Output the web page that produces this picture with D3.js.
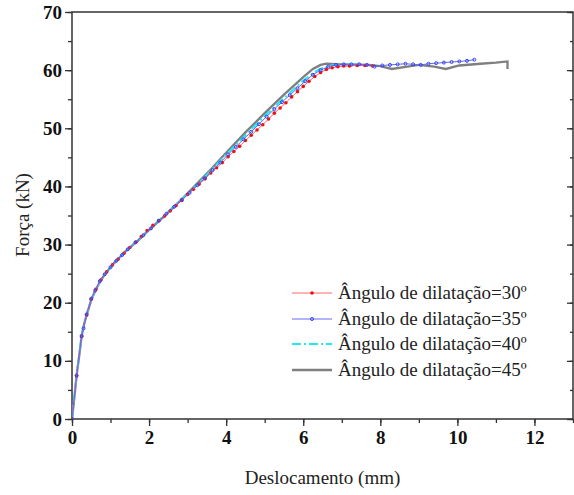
<!DOCTYPE html>
<html><head><meta charset="utf-8">
<script src="https://cdn.jsdelivr.net/npm/d3@7"></script>
</head><body style="margin:0"><svg id="c" width="574" height="495" style="display:block;background:#fff"></svg>
<script>
const xTicks=[0,2,4,6,8,10,12];
const yTicks=[0,10,20,30,40,50,60,70];
const seriesNames=["Ângulo de dilatação=30º","Ângulo de dilatação=35º","Ângulo de dilatação=40º","Ângulo de dilatação=45º"];
const red30=[[0,0],[0.12,7.4],[0.25,14.2],[0.38,17.9],[0.5,20.6],[0.62,22.3],[0.75,23.9],[0.9,25.3],[1.05,26.5],[1.2,27.5],[1.35,28.5],[1.5,29.5],[1.65,30.4],[1.8,31.4],[1.95,32.4],[2.1,33.3],[2.25,34.1],[2.4,34.9],[2.55,35.8],[2.7,36.7],[2.85,37.6],[3.0,38.6],[3.15,39.5],[3.3,40.4],[3.45,41.3],[3.6,42.3],[3.75,43.2],[3.9,44.1],[4.05,45.1],[4.2,46.0],[4.35,46.9],[4.5,47.9],[4.65,48.8],[4.8,49.7],[4.95,50.6],[5.1,51.6],[5.25,52.6],[5.4,53.5],[5.55,54.4],[5.7,55.4],[5.85,56.3],[6.0,57.2],[6.15,58.1],[6.3,58.9],[6.45,59.6],[6.6,60.1],[6.75,60.4],[6.9,60.6],[7.05,60.7],[7.2,60.7],[7.4,60.8],[7.6,60.8],[7.8,60.7]];
const blue35=[[0,0],[0.12,7.5],[0.25,14.3],[0.3,15.6],[0.38,18.0],[0.5,20.7],[0.6,22.1],[0.72,23.7],[0.85,24.9],[1.0,26.1],[1.15,27.2],[1.3,28.2],[1.45,29.2],[1.65,30.4],[1.85,31.6],[2.05,32.8],[2.25,34.1],[2.45,35.3],[2.65,36.5],[2.85,37.7],[3.05,38.9],[3.25,40.2],[3.45,41.4],[3.65,42.8],[3.85,44.1],[4.05,45.5],[4.25,46.8],[4.45,48.1],[4.65,49.4],[4.85,50.7],[5.05,52.0],[5.25,53.3],[5.45,54.5],[5.65,55.7],[5.85,56.9],[6.05,58.1],[6.25,59.2],[6.45,60.0],[6.65,60.6],[6.85,60.9],[7.05,61.0],[7.25,61.0],[7.45,61.0],[7.65,60.9],[7.85,60.6],[8.05,60.8],[8.25,60.9],[8.45,61.0],[8.65,61.1],[8.85,61.0],[9.05,60.9],[9.25,61.1],[9.45,61.2],[9.65,61.3],[9.85,61.4],[10.05,61.5],[10.25,61.6],[10.44,61.8]];
const cyan40=[[0,0],[0.12,7.5],[0.25,14.3],[0.38,18.0],[0.5,20.6],[0.75,23.9],[1.0,26.1],[1.4,28.9],[1.8,31.3],[2.2,33.8],[2.6,36.3],[3.0,38.7],[3.5,42.0],[4.0,45.5],[4.5,48.8],[5.0,52.1],[5.5,55.2],[6.0,58.2],[6.4,60.1],[6.7,60.8],[7.0,61.0],[7.5,61.0]];
const gray45=[[0,0],[0.05,3],[0.12,7.5],[0.2,11.5],[0.25,14.3],[0.32,16.5],[0.4,18.3],[0.5,20.5],[0.6,22],[0.75,23.9],[0.9,25.3],[1.1,26.9],[1.4,28.9],[1.7,30.6],[2.0,32.5],[2.4,34.9],[2.8,37.5],[3.2,40.2],[3.6,42.9],[4.0,45.8],[4.5,49.3],[5.0,52.6],[5.5,55.8],[6.0,58.8],[6.25,60.2],[6.45,60.9],[6.6,61.1],[7.0,61.0],[7.7,60.9],[8.0,60.7],[8.3,60.2],[8.7,60.6],[9.0,60.9],[9.4,60.6],[9.7,60.2],[10.05,60.8],[10.6,61.1],[11.0,61.3],[11.3,61.5],[11.3,60.2]];

const svg=d3.select("#c");
const L=72,R=573,T=12,B=419;
const x=d3.scaleLinear().domain([0,13]).range([L,R]);
const y=d3.scaleLinear().domain([0,70]).range([B,T]);
const FF='"Liberation Serif"';

const minorX=d3.range(0,13.01,1), minorY=d3.range(0,70.01,5);
function styleTxt(g){g.attr("font-family",null).attr("font-size",null);g.selectAll("text").style("font-family",FF).style("font-weight","bold").style("font-size","19px").attr("fill","#111");}
svg.append("g").attr("transform",`translate(0,${B})`)
  .call(d3.axisBottom(x).tickValues(minorX).tickSize(4).tickFormat(""))
  .call(g=>g.select(".domain").remove());
svg.append("g").attr("transform",`translate(0,${B})`)
  .call(d3.axisBottom(x).tickValues(xTicks).tickSize(7).tickPadding(5).tickFormat(d3.format("d")))
  .call(g=>g.select(".domain").remove()).call(styleTxt);
svg.append("g").attr("transform",`translate(${L},0)`)
  .call(d3.axisLeft(y).tickValues(minorY).tickSize(4).tickFormat(""))
  .call(g=>g.select(".domain").remove());
svg.append("g").attr("transform",`translate(${L},0)`)
  .call(d3.axisLeft(y).tickValues(yTicks).tickSize(7).tickPadding(3).tickFormat(d3.format("d")))
  .call(g=>g.select(".domain").remove()).call(styleTxt);
svg.append("g").attr("transform",`translate(${R},0)`)
  .call(d3.axisLeft(y).tickValues(yTicks).tickFormat(""))
  .call(g=>g.select(".domain").remove())
  .call(g=>g.selectAll("line").attr("x2",-6));
svg.append("g").attr("transform",`translate(${R},0)`)
  .call(d3.axisLeft(y).tickValues(minorY).tickFormat(""))
  .call(g=>g.select(".domain").remove())
  .call(g=>g.selectAll("line").attr("x2",-3));
svg.selectAll(".tick line").attr("stroke","#333").attr("stroke-width",1.3);
svg.append("rect").attr("x",L).attr("y",T).attr("width",R-L).attr("height",B-T)
  .attr("fill","none").attr("stroke","#333").attr("stroke-width",1.5);

svg.append("clipPath").attr("id","clp").append("rect").attr("x",L).attr("y",T-5).attr("width",R-L).attr("height",B-T+5);
const plot=svg.append("g").attr("clip-path","url(#clp)");
const line=d3.line().x(d=>x(d[0])).y(d=>y(d[1]));

plot.append("path").datum(gray45).attr("d",line).attr("fill","none").attr("stroke","#7f7f7f").attr("stroke-width",2.3);
plot.append("path").datum(cyan40).attr("d",line).attr("fill","none").attr("stroke","#22e6f0").attr("stroke-width",2).attr("stroke-dasharray","9,3,2,3");
plot.append("path").datum(red30).attr("d",line).attr("fill","none").attr("stroke","#ff6666").attr("stroke-width",1);
plot.selectAll(".rm").data(red30).join("circle").attr("cx",d=>x(d[0])).attr("cy",d=>y(d[1])).attr("r",1.8).attr("fill","#ee1111");
plot.append("path").datum(blue35).attr("d",line).attr("fill","none").attr("stroke","#6666ff").attr("stroke-width",1);
plot.selectAll(".bm").data(blue35).join("circle").attr("cx",d=>x(d[0])).attr("cy",d=>y(d[1])).attr("r",1.5).attr("fill","none").attr("stroke","#3344ee").attr("stroke-width",1);

const lg=svg.append("g");
const ly=[293,319,344,370];
const lx1=292,lx2=332;
seriesNames.forEach((n,i)=>{
  const g=lg.append("g").attr("transform",`translate(0,${ly[i]})`);
  const ln=g.append("line").attr("x1",lx1).attr("x2",lx2);
  if(i===0){ln.attr("stroke","#ff6666").attr("stroke-width",1);g.append("circle").attr("cx",(lx1+lx2)/2).attr("r",1.8).attr("fill","#ee1111");}
  if(i===1){ln.attr("stroke","#6666ff").attr("stroke-width",1);g.append("circle").attr("cx",(lx1+lx2)/2).attr("r",1.5).attr("fill","none").attr("stroke","#3344ee");}
  if(i===2){ln.attr("stroke","#22e6f0").attr("stroke-width",2).attr("stroke-dasharray","9,3,2,3");}
  if(i===3){ln.attr("stroke","#7f7f7f").attr("stroke-width",2.3);}
  g.append("text").attr("x",338).attr("y",6).style("font-family",FF).style("font-size","19px").attr("fill","#222").text(n);
});

svg.append("text").attr("x",(L+R)/2).attr("y",484).attr("text-anchor","middle").style("font-family",FF).style("font-size","19px").attr("fill","#222").text("Deslocamento (mm)");
svg.append("text").attr("transform",`translate(29,215) rotate(-90)`).attr("text-anchor","middle").style("font-family",FF).style("font-size","19px").attr("fill","#222").text("Força (kN)");
</script></body></html>
